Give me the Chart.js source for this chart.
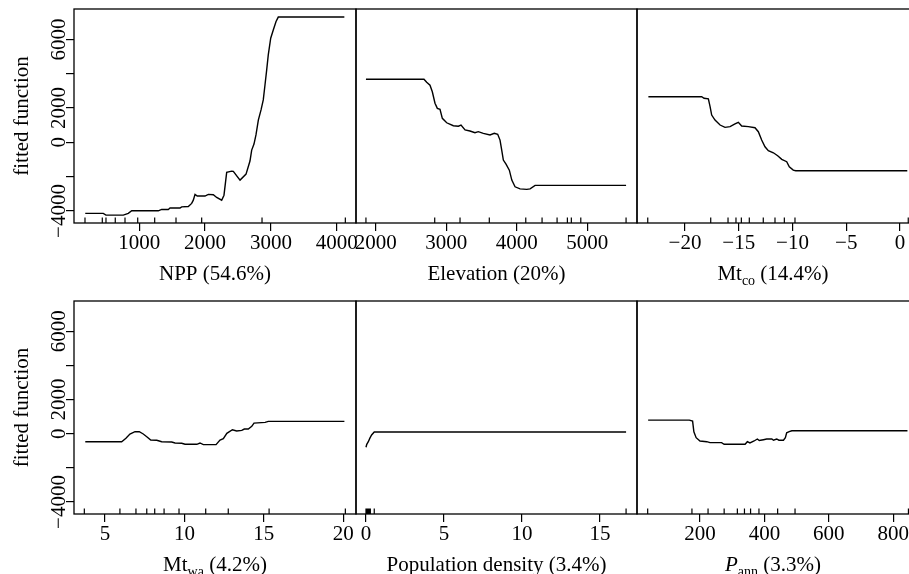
<!DOCTYPE html>
<html><head><meta charset="utf-8">
<script src="https://cdn.jsdelivr.net/npm/chart.js@4"></script>
<style>
html,body{margin:0;padding:0;background:#fff;overflow:hidden;width:909px;height:574px}
.p{position:absolute;left:0;top:0;width:930px;height:574px;pointer-events:none}
</style></head><body>
<div class="p"><canvas id="c0" width="930" height="574"></canvas></div>
<div class="p"><canvas id="c1" width="930" height="574"></canvas></div>
<div class="p"><canvas id="c2" width="930" height="574"></canvas></div>
<div class="p"><canvas id="c3" width="930" height="574"></canvas></div>
<div class="p"><canvas id="c4" width="930" height="574"></canvas></div>
<div class="p"><canvas id="c5" width="930" height="574"></canvas></div>
<script>
// ---- data ----
const nppX = [179, 453, 494, 757, 833, 885, 1289, 1340, 1441, 1467, 1619, 1644, 1745, 1796, 1821, 1847, 1881, 1998, 2049, 2125, 2176, 2252, 2287, 2328, 2404, 2429, 2531, 2622, 2682, 2708, 2743, 2773, 2809, 2850, 2884, 2910, 2936, 2960, 2997, 3036, 3078, 3112, 4116];
const nppY = [-4140, -4140, -4240, -4240, -4140, -3990, -3990, -3910, -3910, -3830, -3830, -3760, -3740, -3560, -3370, -3030, -3130, -3130, -3030, -3050, -3210, -3370, -3080, -1750, -1680, -1690, -2200, -1850, -1090, -450, -100, 430, 1300, 1890, 2470, 3340, 4220, 5100, 6070, 6550, 7040, 7300, 7300];
const nppRug = [175, 438, 494, 635, 783, 976, 1234, 1558, 1948, 2865, 4131];

const elevX = [1862, 2685, 2723, 2770, 2803, 2841, 2874, 2912, 2945, 3007, 3101, 3172, 3210, 3267, 3337, 3408, 3455, 3526, 3621, 3682, 3730, 3763, 3787, 3810, 3848, 3895, 3930, 3976, 4047, 4142, 4189, 4260, 5550];
const elevY = [3680, 3680, 3500, 3330, 2950, 2280, 1980, 1930, 1400, 1140, 970, 940, 1010, 720, 660, 560, 620, 525, 430, 525, 470, 130, -450, -1030, -1270, -1620, -2200, -2590, -2710, -2740, -2710, -2510, -2510];
const elevRug = [1862, 2837, 3196, 3611, 4128, 4359, 4572, 4718, 4774, 4908, 5550];

const mtcoX = [-23.41, -18.45, -18.23, -17.83, -17.67, -17.52, -17.21, -16.74, -16.28, -15.81, -15.35, -15.04, -14.73, -14.11, -13.49, -13.18, -12.87, -12.56, -12.25, -11.78, -11.38, -11.0, -10.54, -10.30, -9.93, -9.70, 0.68];
const mtcoY = [2660, 2660, 2570, 2530, 2080, 1590, 1300, 1010, 875, 913, 1070, 1170, 950, 913, 854, 620, 134, -257, -490, -607, -782, -992, -1130, -1420, -1616, -1657, -1657];
const mtcoRug = [-23.47, -17.61, -16.0, -15.26, -14.76, -14.02, -12.72, -11.63, -10.76, -9.77, 0.77];

const mtwaX = [3.76, 6.05, 6.32, 6.57, 6.89, 7.16, 7.41, 7.63, 7.88, 8.26, 8.57, 9.20, 9.41, 9.83, 10.04, 10.78, 10.98, 11.19, 11.99, 12.24, 12.45, 12.67, 13.02, 13.29, 13.61, 13.77, 14.02, 14.24, 14.38, 15.08, 15.28, 20.07];
const mtwaY = [-466, -466, -268, -17, 117, 117, -17, -175, -367, -386, -466, -486, -542, -560, -618, -618, -542, -637, -637, -367, -290, 23, 233, 157, 195, 274, 274, 431, 623, 664, 723, 723];
const mtwaRug = [3.70, 5.94, 6.95, 7.63, 8.13, 8.72, 9.66, 11.34, 12.76, 15.33, 20.13];

const popX = [0, 0.05, 0.15, 0.25, 0.36, 0.53, 16.67];
const popY = [-793, -620, -466, -260, -76, 99, 99];
const popRug = [0, 0.03, 0.06, 0.09, 0.12, 0.15, 0.19, 0.23, 0.28, 0.53, 16.67];

const pannX = [39, 167, 177, 181, 188, 200, 221, 231, 267, 275, 340, 347, 355, 368, 378, 384, 397, 407, 423, 428, 438, 445, 459, 465, 469, 477, 485, 844];
const pannY = [798, 798, 740, 117, -233, -425, -466, -524, -524, -618, -618, -466, -542, -425, -309, -400, -350, -309, -309, -380, -309, -380, -380, -233, 58, 117, 175, 175];
const pannRug = [37.6, 175, 225, 275, 316, 338, 357, 383, 441, 495, 847];

const yTicks = [-4000, -2000, 0, 2000, 4000, 6000];
const yTickLabels = ['\u22124000', '', '0', '2000', '', '6000'];
const nppTicks = [1000, 2000, 3000, 4000];
const elevTicks = [2000, 3000, 4000, 5000];
const mtcoTicks = [-20, -15, -10, -5, 0];
const mtwaTicks = [5, 10, 15, 20];
const popTicks = [0, 5, 10, 15];
const pannTicks = [200, 400, 600, 800];
const yTitle = 'fitted function';

// ---- layout / style ----
const W = 930, H = 574, VISW = 909;
const FONT = '"Liberation Serif", "Times New Roman", serif';
const FS = 21;
const colL = [74, 356, 637], colR = [356, 637, 919];
const rowT = [9, 301], rowB = [223, 514];
const X_AXIS_H = 60, Y_AXIS_W = 20;

const fmt = v => (v < 0 ? '\u2212' + Math.abs(v) : String(v));

const panels = [
  {xs: nppX, ys: nppY, rug: nppRug, ticks: nppTicks, min: 8, max: 4293, title: [{t: 'NPP (54.6%)'}], r: 0, c: 0},
  {xs: elevX, ys: elevY, rug: elevRug, ticks: elevTicks, min: 1721, max: 5705, title: [{t: 'Elevation (20%)'}], r: 0, c: 1},
  {xs: mtcoX, ys: mtcoY, rug: mtcoRug, ticks: mtcoTicks, min: -24.47, max: 1.77, title: [{t: 'Mt'}, {t: 'co', sub: true}, {t: ' (14.4%)'}], r: 0, c: 2},
  {xs: mtwaX, ys: mtwaY, rug: mtwaRug, ticks: mtwaTicks, min: 3.05, max: 20.8, title: [{t: 'Mt'}, {t: 'wa', sub: true}, {t: ' (4.2%)'}], r: 1, c: 0},
  {xs: popX, ys: popY, rug: popRug, ticks: popTicks, min: -0.64, max: 17.37, title: [{t: 'Population density (3.4%)'}], r: 1, c: 1},
  {xs: pannX, ys: pannY, rug: pannRug, ticks: pannTicks, min: 4.45, max: 879.8, title: [{t: 'P', it: true}, {t: 'ann', sub: true}, {t: ' (3.3%)'}], r: 1, c: 2}
];

const deco = {
  id: 'deco',
  afterDraw(chart, args, o) {
    const p = o.panel;
    const ctx = chart.ctx, a = chart.chartArea;
    const xs = chart.scales.x, ys = chart.scales.y;
    ctx.save();
    ctx.strokeStyle = '#000';
    ctx.fillStyle = '#000';
    ctx.lineWidth = 1.3;
    ctx.strokeRect(a.left, a.top, a.right - a.left, a.bottom - a.top);
    // rug
    ctx.lineWidth = 1.2;
    ctx.beginPath();
    p.rug.forEach(v => {
      const x = xs.getPixelForValue(v);
      ctx.moveTo(x, a.bottom);
      ctx.lineTo(x, a.bottom - 5.5);
    });
    ctx.stroke();
    // x tick labels
    ctx.font = FS + 'px ' + FONT;
    ctx.textAlign = 'center';
    ctx.textBaseline = 'alphabetic';
    p.ticks.forEach(v => {
      ctx.fillText(fmt(v), xs.getPixelForValue(v), a.bottom + 26);
    });
    // x title
    const parts = p.title.map(s => {
      const f = (s.it ? 'italic ' : '') + (s.sub ? '14px ' : FS + 'px ') + FONT;
      ctx.font = f;
      return {t: s.t, f, w: ctx.measureText(s.t).width, sub: s.sub};
    });
    const tw = parts.reduce((s, q) => s + q.w, 0);
    const cx = (a.left + Math.min(a.right, VISW)) / 2;
    let x = cx - tw / 2;
    ctx.textAlign = 'left';
    parts.forEach(q => {
      ctx.font = q.f;
      ctx.fillText(q.t, x, a.bottom + 57 + (q.sub ? 5 : 0));
      x += q.w;
    });
    // y axis labels/title
    if (p.c === 0) {
      ctx.font = FS + 'px ' + FONT;
      ctx.textAlign = 'center';
      yTicks.forEach((v, i) => {
        if (!yTickLabels[i]) return;
        ctx.save();
        ctx.translate(a.left - 9, ys.getPixelForValue(v));
        ctx.rotate(-Math.PI / 2);
        ctx.fillText(yTickLabels[i], 0, 0);
        ctx.restore();
      });
      ctx.save();
      ctx.translate(27.5, (a.top + a.bottom) / 2);
      ctx.rotate(-Math.PI / 2);
      ctx.fillText(yTitle, 0, 0);
      ctx.restore();
    }
    ctx.restore();
  }
};

panels.forEach((p, i) => {
  const L = colL[p.c], R = colR[p.c], T = rowT[p.r], B = rowB[p.r];
  const showY = p.c === 0;
  new Chart(document.getElementById('c' + i), {
    type: 'line',
    data: {
      datasets: [{
        data: p.xs.map((v, k) => ({x: v, y: p.ys[k]})),
        borderColor: '#000',
        borderWidth: 1.4,
        pointRadius: 0,
        tension: 0,
        fill: false
      }]
    },
    plugins: [deco],
    options: {
      responsive: false,
      animation: false,
      devicePixelRatio: 1,
      events: [],
      layout: {padding: {left: showY ? L - Y_AXIS_W : L, right: W - R, top: T, bottom: H - B - X_AXIS_H}},
      plugins: {legend: {display: false}, tooltip: {enabled: false}, deco: {panel: p}},
      scales: {
        x: {
          type: 'linear', min: p.min, max: p.max,
          afterBuildTicks: s => { s.ticks = p.ticks.map(v => ({value: v})); },
          afterFit: s => { s.height = X_AXIS_H; },
          ticks: {display: false},
          grid: {display: true, drawOnChartArea: false, drawTicks: true, tickLength: 8, color: '#000', lineWidth: 1.2},
          border: {display: false}
        },
        y: {
          type: 'linear', min: -4700, max: 7770, display: showY,
          afterBuildTicks: s => { s.ticks = yTicks.map(v => ({value: v})); },
          afterFit: s => { s.width = showY ? Y_AXIS_W : 0; },
          ticks: {display: false},
          grid: {display: true, drawOnChartArea: false, drawTicks: true, tickLength: 8, color: '#000', lineWidth: 1.2},
          border: {display: false}
        }
      }
    }
  });
});
</script>
</body></html>
